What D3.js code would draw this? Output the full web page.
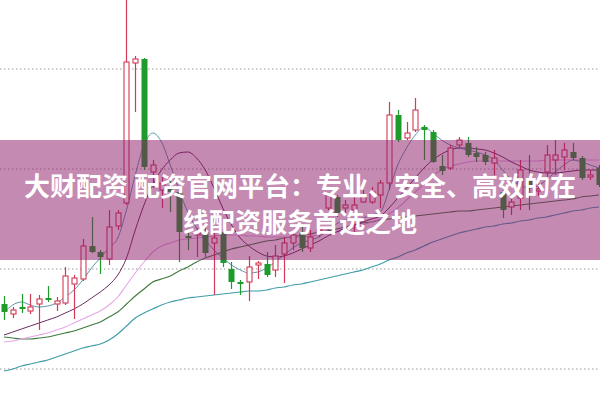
<!DOCTYPE html>
<html><head><meta charset="utf-8">
<script src="https://cdn.jsdelivr.net/npm/d3@7"></script>
<style>html,body{margin:0;padding:0;background:#fff;overflow:hidden}</style>
</head><body>
<svg id="c" width="600" height="401"></svg>
<script>
// Candles: open, high, low, close (price units)
const opens  = [10.64,10.54,10.61,10.57,10.64,10.70,10.64,10.65,10.84,10.89,11.22,11.16,11.09,11.42,11.65,13.05,13.09,11.96,11.78,11.80,11.76,11.32,11.33,11.36,11.25,11.36,10.99,10.86,10.86,11.03,11.04,10.98,11.14,11.25,11.36,11.20,11.35,11.60,11.71,11.60,11.58,11.66,11.66,11.73,11.85,12.53,12.30,12.38,12.41,12.36,12.02,12.00,12.23,12.25,12.15,12.13,12.05,11.76,11.61,11.70,11.88,11.77,11.96,12.08,12.11,12.16,12.10,11.91,12.00];
const highs  = [10.72,10.61,10.74,10.74,10.73,10.82,10.71,11.01,10.93,11.29,11.51,11.18,11.58,11.58,13.73,13.12,13.10,12.08,11.93,11.88,11.80,11.38,11.40,11.41,11.38,11.39,11.06,10.88,11.12,11.07,11.16,11.23,11.31,11.38,11.43,11.38,11.43,11.75,11.73,11.68,11.71,11.78,11.81,11.88,12.66,12.58,12.46,12.70,12.43,12.38,12.13,12.23,12.31,12.31,12.21,12.16,12.18,11.83,11.73,12.08,12.13,11.86,12.23,12.28,12.25,12.25,12.12,11.98,12.03];
const lows   = [10.48,10.50,10.55,10.54,10.38,10.66,10.57,10.63,10.49,10.87,11.15,10.94,11.03,11.38,11.63,12.56,11.98,11.80,11.60,11.56,11.06,11.18,11.11,11.11,10.73,11.01,10.79,10.73,10.67,10.89,10.91,10.91,10.85,11.18,11.16,11.16,11.31,11.58,11.51,11.55,11.35,11.65,11.64,11.60,11.78,12.26,12.28,12.36,12.08,12.05,11.93,11.98,12.20,12.11,12.06,12.03,11.93,11.50,11.53,11.58,11.58,11.72,11.90,11.93,11.98,12.08,11.88,11.88,11.81];
const closes = [10.56,10.58,10.59,10.61,10.69,10.68,10.67,10.92,10.90,11.22,11.16,11.11,11.41,11.55,13.06,13.09,12.01,12.03,11.85,11.76,11.36,11.30,11.36,11.15,11.30,11.05,10.86,10.84,11.01,11.05,10.93,11.12,11.25,11.33,11.20,11.31,11.38,11.73,11.55,11.63,11.63,11.72,11.76,11.85,12.53,12.28,12.35,12.58,12.38,12.06,11.97,12.20,12.28,12.13,12.11,12.06,12.10,11.58,11.66,11.98,11.82,11.79,12.13,12.13,12.18,12.10,11.90,11.93,11.83];

// Moving averages
const ma5  = [10.55,10.63,10.66,10.63,10.61,10.62,10.65,10.71,10.78,10.88,11.00,11.10,11.20,11.30,11.58,11.93,12.23,12.35,12.26,12.03,11.78,11.56,11.40,11.28,11.18,11.10,11.03,10.98,10.95,10.96,11.00,11.06,11.13,11.20,11.25,11.28,11.31,11.38,11.44,11.48,11.48,11.50,11.53,11.56,11.78,12.03,12.20,12.33,12.41,12.35,12.28,12.23,12.20,12.18,12.16,12.13,12.08,11.98,11.88,11.83,11.80,11.82,11.88,11.96,12.03,12.08,12.06,12.03,12.00];
const ma10 = [10.33,10.36,10.39,10.42,10.45,10.48,10.51,10.55,10.59,10.64,10.70,10.76,10.83,10.93,11.10,11.38,11.63,11.83,11.98,12.08,12.15,12.16,12.10,11.98,11.80,11.60,11.43,11.30,11.22,11.16,11.12,11.11,11.12,11.15,11.19,11.23,11.27,11.32,11.36,11.40,11.43,11.46,11.49,11.52,11.60,11.70,11.80,11.90,12.00,12.08,12.14,12.18,12.20,12.20,12.19,12.18,12.15,12.11,12.06,12.02,11.98,11.96,11.95,11.95,11.96,11.97,11.98,11.98,11.98];
const ma20 = [10.26,10.27,10.29,10.31,10.33,10.35,10.38,10.41,10.45,10.49,10.53,10.57,10.63,10.71,10.83,10.95,11.06,11.16,11.22,11.25,11.28,11.29,11.30,11.31,11.32,11.33,11.33,11.33,11.32,11.32,11.31,11.31,11.31,11.31,11.31,11.32,11.33,11.35,11.36,11.38,11.40,11.43,11.46,11.49,11.54,11.60,11.68,11.76,11.84,11.92,11.98,12.02,12.04,12.06,12.07,12.07,12.07,12.07,12.07,12.07,12.07,12.07,12.08,12.08,12.08,12.08,12.08,12.08,12.08];
const ma30 = [10.31,10.30,10.29,10.29,10.30,10.31,10.33,10.35,10.37,10.40,10.43,10.46,10.51,10.56,10.64,10.72,10.79,10.86,10.89,10.92,10.97,11.01,11.06,11.10,11.13,11.16,11.19,11.21,11.23,11.25,11.27,11.28,11.30,11.31,11.33,11.34,11.36,11.37,11.39,11.41,11.43,11.45,11.46,11.48,11.49,11.50,11.51,11.52,11.53,11.54,11.55,11.56,11.57,11.57,11.58,11.59,11.60,11.61,11.62,11.63,11.64,11.65,11.66,11.67,11.68,11.69,11.71,11.72,11.73];
const ma60 = [9.97,9.99,10.02,10.04,10.06,10.08,10.11,10.14,10.17,10.20,10.22,10.24,10.28,10.34,10.42,10.50,10.55,10.59,10.63,10.66,10.68,10.70,10.71,10.72,10.73,10.74,10.75,10.76,10.77,10.77,10.78,10.80,10.81,10.83,10.84,10.86,10.88,10.90,10.92,10.94,10.96,10.98,11.01,11.04,11.08,11.11,11.15,11.18,11.22,11.26,11.29,11.32,11.35,11.37,11.39,11.41,11.42,11.44,11.45,11.47,11.48,11.50,11.51,11.53,11.55,11.57,11.58,11.60,11.61];

const gridTicks = [10, 11, 12, 13];
const titleLines = ["大财配资 配资官网平台：专业、安全、高效的在", "线配资服务首选之地"];

const W = 600, H = 401;
const svg = d3.select("#c");
const x = d3.scaleLinear().domain([0, opens.length - 1]).range([4, 599]);
const y = d3.scaleLinear().domain([10, 13]).range([368, 68]);

// grid
const grid = svg.append("g").call(d3.axisLeft(y).tickValues(gridTicks).tickSize(-W).tickFormat(""));
grid.select(".domain").remove();
grid.selectAll(".tick line").attr("stroke", "#9a9a9a").attr("stroke-dasharray", "1.5,2.5").attr("stroke-width", 1)
  .attr("transform", "translate(0,0.5)");

const red = "#d23a56", green = "#1f9b2c";
const idx = d3.range(opens.length);

// MA lines
const maDefs = [
  {d: ma60, c: "#3f9ea8", w: 1.2},
  {d: ma30, c: "#3d7a3d", w: 1.1},
  {d: ma20, c: "#e6a6e6", w: 1.1},
  {d: ma10, c: "#6a2c5e", w: 1},
  {d: ma5,  c: "#5a98a8", w: 1}
];
const line = d => d3.line().x((v, i) => x(i)).y(v => y(v)).curve(d3.curveMonotoneX)(d);
svg.append("g").selectAll("path").data(maDefs).join("path")
  .attr("d", m => line(m.d)).attr("fill", "none").attr("stroke", m => m.c).attr("stroke-width", m => m.w);

// candles
const cg = svg.append("g").selectAll("g").data(idx).join("g");
cg.append("line")
  .attr("x1", i => Math.round(x(i)) + 0.5).attr("x2", i => Math.round(x(i)) + 0.5)
  .attr("y1", i => y(highs[i])).attr("y2", i => y(lows[i]))
  .attr("stroke", i => closes[i] >= opens[i] ? red : green).attr("stroke-width", 1.2);
cg.append("rect")
  .attr("x", i => closes[i] >= opens[i] ? Math.round(x(i)) - 2 : Math.round(x(i)) - 2.5)
  .attr("width", i => closes[i] >= opens[i] ? 5 : 6)
  .attr("y", i => y(Math.max(opens[i], closes[i])))
  .attr("height", i => Math.max(1.5, Math.abs(y(opens[i]) - y(closes[i]))))
  .attr("fill", i => closes[i] >= opens[i] ? "#fff" : green)
  .attr("stroke", i => closes[i] >= opens[i] ? red : "none")
  .attr("stroke-width", 1.1);

// banner overlay
svg.append("rect").attr("x", 0).attr("y", 140).attr("width", W).attr("height", 120)
  .attr("fill", "rgb(137,21,101)").attr("fill-opacity", 0.5);

svg.append("g").selectAll("text").data(titleLines).join("text")
  .attr("x", 300).attr("y", (d, i) => 184 + i * 36)
  .attr("text-anchor", "middle").attr("dominant-baseline", "central")
  .attr("font-family", "'Noto Sans CJK SC', sans-serif").attr("font-weight", "bold")
  .attr("font-size", 26).attr("fill", "#fff")
  .text(d => d);
</script>
</body></html>
